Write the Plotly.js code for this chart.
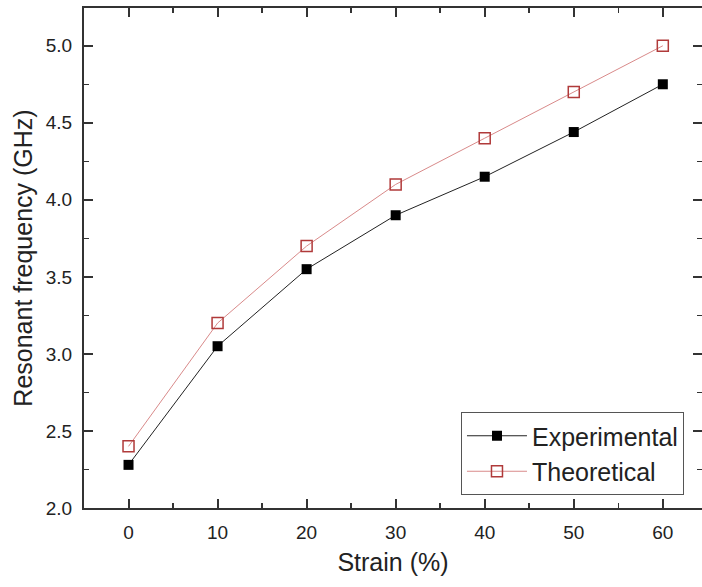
<!DOCTYPE html>
<html>
<head>
<meta charset="utf-8">
<script src="https://cdn.plot.ly/plotly-3.0.1.min.js"></script>
<style>html,body{margin:0;padding:0;background:#fff;}</style>
</head>
<body>
<div id="chart" style="width:702px;height:587px;"></div>
<script>
const strain = [0, 10, 20, 30, 40, 50, 60];
const experimental = [2.28, 3.05, 3.55, 3.90, 4.15, 4.44, 4.75];
const theoretical = [2.40, 3.20, 3.70, 4.10, 4.40, 4.70, 5.00];
const seriesNames = ["Experimental", "Theoretical"];

const font = "Liberation Sans, Arial, sans-serif";
const traces = [
  {
    x: strain, y: experimental, name: seriesNames[0], type: "scatter", mode: "lines+markers",
    line: {color: "#222", width: 1},
    marker: {symbol: "square", size: 10, color: "#000"}
  },
  {
    x: strain, y: theoretical, name: seriesNames[1], type: "scatter", mode: "lines+markers",
    line: {color: "#d98a8a", width: 1},
    marker: {symbol: "square-open", size: 11, color: "#b03a3a", line: {width: 1.5}}
  }
];

const axisCommon = {
  showline: true, linecolor: "#333", linewidth: 2, mirror: "ticks",
  ticks: "inside", ticklen: 9, tickwidth: 2, tickcolor: "#333",
  showgrid: false, zeroline: false,
  tickfont: {family: font, size: 19, color: "#222"},
  minor: {ticks: "inside", ticklen: 5, tickwidth: 1.5, tickcolor: "#333", showgrid: false}
};

const layout = {
  width: 702, height: 587,
  margin: {l: 84, r: 0, t: 8, b: 79},
  paper_bgcolor: "#fff", plot_bgcolor: "#fff",
  showlegend: true,
  legend: {
    x: 0.61, y: 0.192, xanchor: "left", yanchor: "top",
    bordercolor: "#555", borderwidth: 1, bgcolor: "#fff",
    font: {family: font, size: 25, color: "#222"},
    itemwidth: 60,
    tracegroupgap: 0
  },
  xaxis: Object.assign({}, axisCommon, {
    range: [-5, 64.4], tickmode: "array", tickvals: strain,
    minor: Object.assign({}, axisCommon.minor, {tickmode: "linear", tick0: 5, dtick: 10}),
    ticklabelstandoff: 6,
    title: {text: "Strain (%)", font: {family: font, size: 25, color: "#222"}, standoff: 12}
  }),
  yaxis: Object.assign({}, axisCommon, {
    range: [2.0, 5.245], tickmode: "linear", tick0: 2.0, dtick: 0.5, tickformat: ".1f",
    minor: Object.assign({}, axisCommon.minor, {tickmode: "linear", tick0: 2.25, dtick: 0.5}),
    ticklabelstandoff: 6,
    title: {text: "Resonant frequency (GHz)", font: {family: font, size: 25, color: "#222"}, standoff: 6}
  })
};

Plotly.newPlot("chart", traces, layout, {displayModeBar: false, staticPlot: true});
</script>
</body>
</html>
